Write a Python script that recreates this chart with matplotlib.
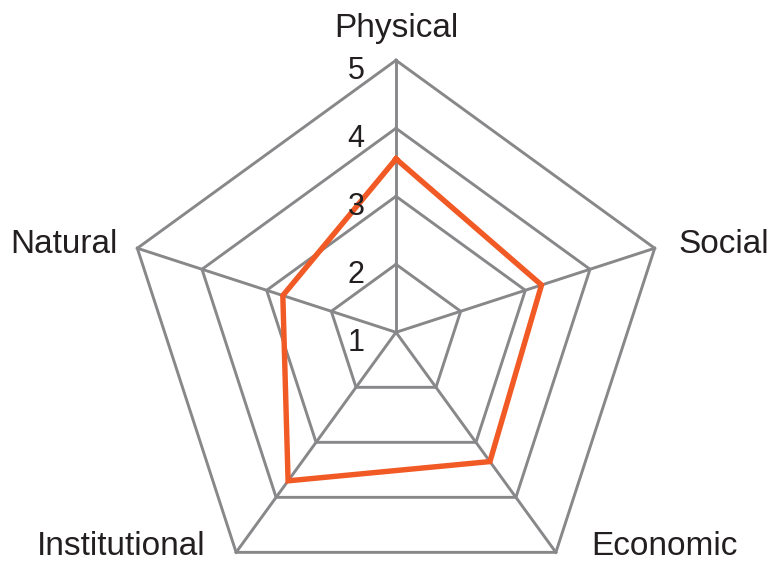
import numpy as np
import matplotlib
matplotlib.use("Agg")
import matplotlib.pyplot as plt

categories = ["Physical", "Social", "Economic", "Institutional", "Natural"]
values = [3.55, 3.25, 3.35, 3.7, 2.75]
levels = [1, 2, 3, 4, 5]
level_labels = ["1", "2", "3", "4", "5"]

GRID = "#88888a"
ORANGE = "#f15a24"
TEXT = "#231f20"

plt.rcParams["font.family"] = ["Liberation Sans", "DejaVu Sans"]

W, H = 773, 565
fig = plt.figure(figsize=(W / 100, H / 100), dpi=100)
cx, cy, R = 396, 565 - 332.3, 272
ax = fig.add_axes([(cx - R) / W, (cy - R) / H, 2 * R / W, 2 * R / H], projection="polar")
ax.set_theta_offset(np.pi / 2)
ax.set_theta_direction(-1)
ax.set_ylim(levels[0], levels[-1])
ax.grid(False)
ax.spines["polar"].set_visible(False)
ax.set_xticks([])
ax.set_yticks([])
ax.patch.set_visible(False)

n = len(categories)
angles = np.linspace(0, 2 * np.pi, n, endpoint=False)
closed = np.concatenate([angles, angles[:1]])

# grid polygons
for lv in levels[1:]:
    ax.plot(closed, [lv] * (n + 1), color=GRID, lw=2.1, solid_joinstyle="miter", clip_on=False)
# spokes
for a in angles:
    ax.plot([a, a], [levels[0], levels[-1]], color=GRID, lw=2.1, clip_on=False)

# data
vals = values + values[:1]
ax.plot(closed, vals, color=ORANGE, lw=3.9, solid_joinstyle="miter", clip_on=False, zorder=5)

# radial labels
for lv, lab in zip(levels, level_labels):
    ax.annotate(lab, xy=(0, lv), xytext=(-40, -11), textcoords="offset pixels",
                ha="center", va="center", fontsize=22, color=TEXT, zorder=6)

# category labels
offsets = [
    ((0, 23), "center", "baseline"),
    ((24, -5), "left", "baseline"),
    ((35, -3), "left", "baseline"),
    ((-31, -3), "right", "baseline"),
    ((-20, -5), "right", "baseline"),
]
for a, cat, (off, ha, va) in zip(angles, categories, offsets):
    ax.annotate(cat, xy=(a, levels[-1]), xytext=off, textcoords="offset pixels",
                ha=ha, va=va, fontsize=24, color=TEXT, annotation_clip=False)

fig.savefig("out.png", dpi=100)
